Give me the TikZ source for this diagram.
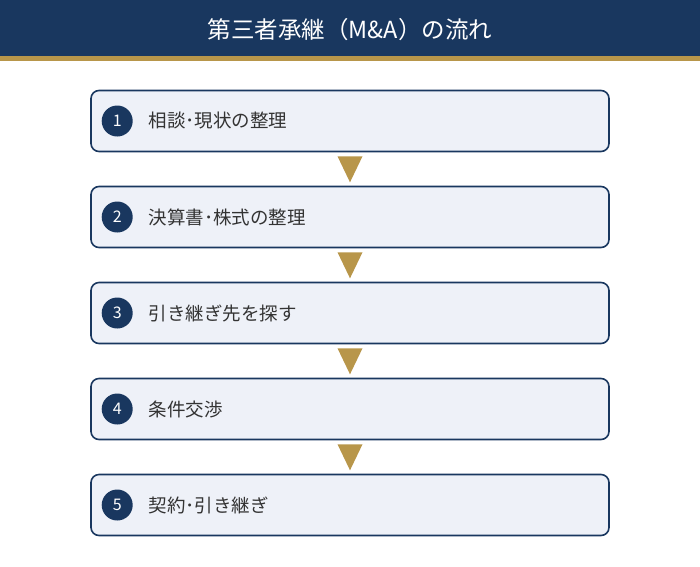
\documentclass[tikz,border=0pt]{standalone}
\usepackage{fontspec}
\setmainfont{Noto Sans CJK JP}
\usepackage{tikz}
\usetikzlibrary{calc,positioning}
\definecolor{navy}{HTML}{19375F}
\definecolor{gold}{HTML}{B8964A}
\definecolor{boxfill}{HTML}{EEF1F8}
\definecolor{textgray}{HTML}{333333}
\tikzset{
	stepbox/.style={draw=navy,line width=1.6pt,fill=boxfill,rounded corners=8pt,
		minimum width=518pt,minimum height=61pt,inner sep=0pt},
	numdot/.style={circle,fill=navy,minimum size=31pt,inner sep=0pt,
		text=white,font=\fontsize{16pt}{16pt}\selectfont},
	steptext/.style={anchor=west,text=textgray,font=\fontsize{18.5pt}{18.5pt}\selectfont}
}
\begin{document}
\begin{tikzpicture}[x=1pt,y=-1pt]
	\useasboundingbox (0,0) rectangle (700,566);
	\fill[navy] (0,0) rectangle (700,56);
	\fill[gold] (0,56) rectangle (700,61);
	\node[text=white,font=\fontsize{23.5pt}{23.5pt}\selectfont] (title) at (350,30) {第三者承継（M\&A）の流れ};
	\foreach \i/\txt in {1/相談･現状の整理,2/決算書･株式の整理,3/引き継ぎ先を探す,4/条件交渉,5/契約･引き継ぎ}{
		\node[stepbox] (b\i) at (350,{121+96*(\i-1)}) {};
		\node[numdot] (n\i) at ($(b\i.west)+(27,0)$) {\i};
		\node[steptext] (t\i) at ($(b\i.west)+(55,0)$) {\txt};
	}
	\foreach \i in {1,...,4}{
		\fill[gold] ($(b\i.south)+(-12.5,4)$) -- ($(b\i.south)+(12.5,4)$) -- ($(b\i.south)+(0,30)$) -- cycle;
	}
\end{tikzpicture}
\end{document}
